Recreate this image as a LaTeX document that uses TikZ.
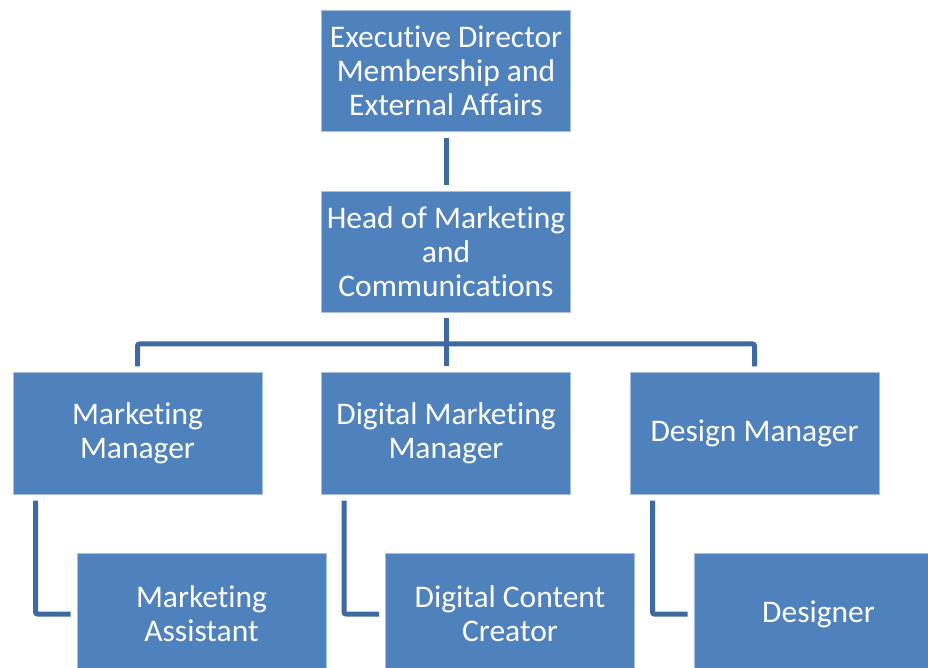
\documentclass[tikz,border=0pt]{standalone}
\usepackage{fontspec}
\setmainfont[Ligatures=NoCommon]{Carlito}
\definecolor{boxfill}{RGB}{79,129,189}
\definecolor{boxline}{RGB}{167,191,222}
\definecolor{linkcol}{RGB}{62,106,162}
\begin{document}
\begin{tikzpicture}[x=1pt,y=1pt,
		role/.style={draw=boxline,line width=1pt,fill=boxfill,text=white,
			minimum width=249pt,minimum height=121pt,inner sep=0pt,align=center,
			font=\fontsize{31.5}{34}\selectfont},
		link/.style={draw=linkcol,line width=5pt,rounded corners=2pt}]
		\useasboundingbox (0,0) rectangle (928,667);
		\begin{scope}
		\clip (0,0) rectangle (928,667);
		\node[role] (exec) at (446,596) {Executive Director\\Membership and\\External Affairs};
		\node[role] (head) at (446,415) {Head of Marketing\\and\\Communications};
		\node[role] (mm) at (137.5,233.5) {Marketing\\Manager};
		\node[role] (dmm) at (446,233.5) {Digital Marketing\\Manager};
		\node[role] (dm) at (754.5,233.5) {Design Manager};
		\node[role] (ma) at (201.5,53) {Marketing\\Assistant};
		\node[role] (dcc) at (510,53) {Digital Content\\Creator};
		\node[role] (des) at (818.5,53) {Designer};
		\coordinate (bus) at (446,323);
		% links
		\draw[link] ([yshift=-6pt]exec.south) to ([yshift=6pt]head.north);
		\draw[link] ([yshift=-5pt]head.south) to (bus);
		\draw[link] ([yshift=6pt]mm.north) |- (bus) -| ([yshift=6pt]dm.north);
		\draw[link] (bus) to ([yshift=6pt]dmm.north);
		\draw[link] ([xshift=23pt,yshift=-6pt]mm.south west) |- ([xshift=-6pt]ma.west);
		\draw[link] ([xshift=23pt,yshift=-6pt]dmm.south west) |- ([xshift=-6pt]dcc.west);
		\draw[link] ([xshift=23pt,yshift=-6pt]dm.south west) |- ([xshift=-6pt]des.west);
		\end{scope}
	\end{tikzpicture}
\end{document}
